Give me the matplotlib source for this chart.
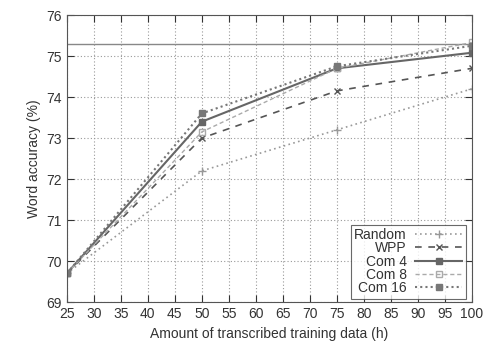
import matplotlib
matplotlib.use("Agg")
import matplotlib.pyplot as plt

plt.rcParams['font.family'] = ['Liberation Sans', 'DejaVu Sans']

x = [25, 50, 75, 100]
random_acc = [69.7, 72.2, 73.2, 74.2]
wpp_acc = [69.7, 73.0, 74.15, 74.7]
com4_acc = [69.7, 73.4, 74.7, 75.08]
com8_acc = [69.7, 73.15, 74.7, 75.33]
com16_acc = [69.7, 73.6, 74.75, 75.25]
baseline = 75.3

fig = plt.figure(figsize=(4.88, 3.41), dpi=100)
ax = fig.add_axes([0.137, 0.114, 0.83, 0.842])

ax.axhline(baseline, color='#888888', lw=1.0, zorder=1)
ax.plot(x, random_acc, color='#999999', ls=(0, (1, 2)), lw=1.2, marker='+', ms=6, label='Random')
ax.plot(x, wpp_acc, color='#555555', ls=(0, (4, 4)), lw=1.2, marker='x', ms=5, label='WPP')
ax.plot(x, com4_acc, color='#666666', ls='-', lw=1.5, marker='s', ms=4, label='Com 4')
ax.plot(x, com8_acc, color='#aaaaaa', ls=(0, (3, 2)), lw=1.0, marker='s', ms=5, mfc='none', label='Com 8')
ax.plot(x, com16_acc, color='#777777', ls=(0, (1, 1.5)), lw=1.5, marker='s', ms=4, label='Com 16')

ax.set_xlim(25, 100)
ax.set_ylim(69, 76)
ax.set_xticks(range(25, 101, 5))
ax.set_yticks(range(69, 77))
ax.grid(True, color='#999999', ls=(0, (1, 2)), lw=0.8)
ax.tick_params(direction='in', top=True, right=True, labelsize=10, colors='#333333', length=5)
for s in ax.spines.values():
    s.set_color('#555555')
ax.set_xlabel('Amount of transcribed training data (h)', fontsize=10, color='#333333')
ax.set_ylabel('Word accuracy (%)', fontsize=10, color='#333333')

leg = ax.legend(loc='lower right', bbox_to_anchor=(0.985, 0.012), markerfirst=False, fontsize=10,
                frameon=True, fancybox=False, edgecolor='#444444', handlelength=3.4,
                labelspacing=-0.05, borderpad=0.25, handletextpad=0.6, borderaxespad=0.0)
leg.get_frame().set_linewidth(0.8)
for t in leg.get_texts():
    t.set_color('#333333')

fig.savefig('out.png', dpi=100)
